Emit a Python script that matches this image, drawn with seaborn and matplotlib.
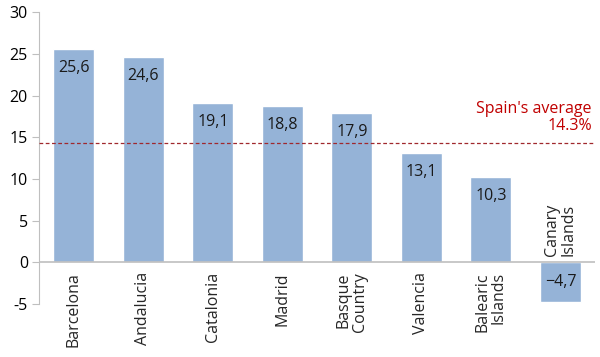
import matplotlib
matplotlib.use('Agg')
from matplotlib import pyplot as plt
import pandas as pd
import seaborn as sns

regions = ['Barcelona', 'Andalucia', 'Catalonia', 'Madrid', 'Basque\nCountry',
           'Valencia', 'Balearic\nIslands', 'Canary\nIslands']
growth = [25.6, 24.6, 19.1, 18.8, 17.9, 13.1, 10.3, -4.7]
spain_avg = 14.3

df = pd.DataFrame({'region': regions, 'growth': growth})

sns.set_style('white')
plt.rcParams['font.family'] = ['Open Sans', 'DejaVu Sans']

fig = plt.figure(figsize=(6, 3.57), dpi=100)
ax = fig.add_axes([0.065, 0.148, 0.927, 0.818])

sns.barplot(data=df, x='region', y='growth', color='#95B3D7', saturation=1,
            width=0.59, ax=ax)

ax.set_ylim(-5, 30)
ax.set_xlim(-0.5, len(regions) - 0.5)
ax.set_yticks(range(-5, 31, 5))
ax.set_yticklabels(['-5', '0', '5', '10', '15', '20', '25', '30'], fontsize=11.5)
ax.set_xticks([])
ax.set_xlabel('')
ax.set_ylabel('')

for s in ['top', 'right', 'bottom']:
    ax.spines[s].set_visible(False)
ax.spines['left'].set_color('#BFBFBF')
ax.tick_params(axis='y', left=True, length=5, color='#BFBFBF', pad=3, labelcolor='black')
ax.axhline(0, color='#BFBFBF', lw=1.2, zorder=3)

# average line
ax.axhline(spain_avg, color='#A0282D', lw=0.9, ls=(0, (3, 2)), zorder=4)
ax.text(len(regions) - 0.55, spain_avg + 1.1, "Spain's average\n14.3%",
        color='#C00000', fontsize=11.5, ha='right', va='bottom', linespacing=1.05)

# value labels and category labels
for i, v in enumerate(growth):
    txt = f'{abs(v):.1f}'.replace('.', ',')
    if v < 0:
        txt = '\u2212' + txt
        ax.annotate(txt, (i, 0), xytext=(0, -8), textcoords='offset points',
                    ha='center', va='top', fontsize=11.5, color='#1a1a1a')
        ax.annotate(regions[i], (i, 0), xytext=(0, 5), textcoords='offset points',
                    ha='center', va='bottom', rotation=90, fontsize=11.5,
                    linespacing=1.0, multialignment='left')
    else:
        ax.annotate(txt, (i, v), xytext=(0, -8), textcoords='offset points',
                    ha='center', va='top', fontsize=11.5, color='#1a1a1a')
        ax.annotate(regions[i], (i, 0), xytext=(0, -7), textcoords='offset points',
                    ha='center', va='top', rotation=90, fontsize=11.5,
                    linespacing=1.0, multialignment='right')

fig.savefig('out.png', dpi=100)
